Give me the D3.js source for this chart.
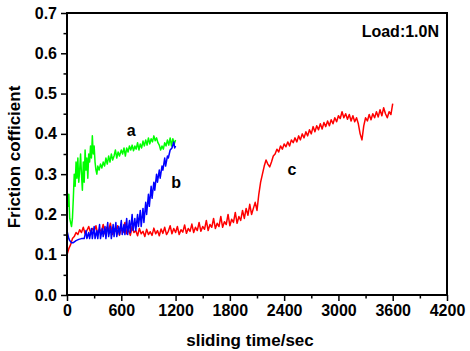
<!DOCTYPE html>
<html>
<head>
<meta charset="utf-8">
<script src="https://cdn.jsdelivr.net/npm/d3@7"></script>
<style>
  body { margin: 0; background: #fff; }
  svg text { font-family: "Liberation Sans", Arial, sans-serif; font-weight: bold; fill: #000; }
</style>
</head>
<body>
<svg width="470" height="351"></svg>
<script>
// Data: [time (s), friction coefficient]
const curveA = [
  [0,0.27],[10,0.22],[20,0.25],[30,0.19],[40,0.18],[50,0.17],[60,0.19],[70,0.24],[80,0.30],[90,0.27],
  [100,0.33],[110,0.29],[120,0.34],[130,0.28],[140,0.31],[150,0.35],[160,0.30],[170,0.26],[180,0.33],[190,0.28],
  [200,0.36],[210,0.31],[220,0.34],[230,0.29],[240,0.35],[250,0.33],[260,0.37],[270,0.34],[280,0.395],[290,0.35],
  [300,0.37],[310,0.33],[320,0.31],[330,0.30],[340,0.32],[355,0.31],[370,0.325],[385,0.315],[400,0.33],[415,0.32],
  [430,0.34],[445,0.325],[460,0.345],[475,0.33],[490,0.35],[505,0.335],[520,0.345],[535,0.36],[550,0.34],[565,0.355],
  [580,0.345],[600,0.36],[615,0.35],[630,0.365],[645,0.345],[660,0.365],[675,0.355],[690,0.37],[705,0.36],[720,0.372],
  [735,0.358],[750,0.37],[765,0.362],[780,0.378],[795,0.36],[810,0.375],[825,0.365],[840,0.382],[855,0.37],[870,0.385],
  [885,0.372],[900,0.39],[915,0.375],[930,0.388],[945,0.38],[960,0.395],[975,0.383],[990,0.39],[1005,0.378],[1020,0.372],
  [1035,0.36],[1050,0.37],[1065,0.362],[1080,0.378],[1095,0.37],[1110,0.385],[1125,0.372],[1140,0.39],[1155,0.37],[1170,0.388],
  [1185,0.375],[1200,0.385]
];
const curveB = [
  [0,0.16],[10,0.15],[20,0.14],[30,0.135],[50,0.13],[70,0.13],[100,0.135],[130,0.138],[160,0.14],[190,0.14],
  [210,0.16],[220,0.14],[240,0.155],[250,0.14],[270,0.165],[280,0.14],[300,0.17],[310,0.14],[330,0.16],[340,0.14],
  [360,0.175],[370,0.14],[390,0.165],[400,0.145],[420,0.17],[430,0.14],[450,0.18],[460,0.145],[480,0.17],[490,0.14],
  [510,0.175],[520,0.145],[540,0.18],[550,0.145],[570,0.17],[580,0.15],[600,0.185],[610,0.15],[630,0.175],[640,0.15],
  [660,0.19],[670,0.15],[690,0.185],[700,0.155],[720,0.2],[730,0.16],[750,0.19],[760,0.16],[780,0.2],[790,0.17],
  [810,0.21],[820,0.17],[840,0.215],[850,0.18],[870,0.23],[880,0.2],[900,0.25],[910,0.22],[930,0.27],[940,0.24],
  [960,0.28],[970,0.26],[990,0.3],[1000,0.28],[1020,0.31],[1030,0.29],[1050,0.32],[1060,0.31],[1080,0.34],[1090,0.32],
  [1110,0.345],[1120,0.34],[1140,0.36],[1160,0.365],[1180,0.38],[1190,0.365],[1200,0.37]
];
const curveC = [
  [0,0.10],[20,0.115],[40,0.125],[60,0.14],[80,0.145],[100,0.155],[120,0.15],[140,0.162],[160,0.155],[180,0.168],
  [200,0.152],[220,0.16],[240,0.17],[260,0.155],[280,0.165],[300,0.158],[320,0.172],[340,0.15],[360,0.163],[380,0.157],
  [400,0.175],[420,0.152],[440,0.168],[460,0.16],[480,0.178],[500,0.15],[520,0.165],[540,0.158],[560,0.172],[580,0.148],
  [600,0.166],[620,0.155],[640,0.18],[660,0.152],[680,0.162],[700,0.148],[720,0.17],[740,0.155],[760,0.16],[780,0.147],
  [800,0.165],[820,0.152],[840,0.158],[860,0.145],[880,0.163],[900,0.15],[920,0.157],[940,0.148],[960,0.166],[980,0.152],
  [1000,0.16],[1020,0.147],[1040,0.164],[1060,0.153],[1080,0.168],[1100,0.15],[1120,0.158],[1140,0.172],[1160,0.152],[1180,0.165],
  [1200,0.155],[1220,0.17],[1240,0.15],[1260,0.162],[1280,0.156],[1300,0.174],[1320,0.153],[1340,0.165],[1360,0.158],[1380,0.176],
  [1400,0.155],[1420,0.168],[1440,0.16],[1460,0.18],[1480,0.158],[1500,0.17],[1520,0.163],[1540,0.185],[1560,0.16],[1580,0.175],
  [1600,0.168],[1620,0.19],[1640,0.165],[1660,0.178],[1680,0.17],[1700,0.195],[1720,0.168],[1740,0.182],[1760,0.175],[1780,0.2],
  [1800,0.172],[1820,0.188],[1840,0.18],[1860,0.205],[1880,0.178],[1900,0.195],[1920,0.185],[1940,0.21],[1960,0.19],[1980,0.215],
  [2000,0.198],[2020,0.225],[2040,0.2],[2060,0.215],[2080,0.23],[2100,0.21],[2120,0.25],[2140,0.28],[2160,0.3],[2180,0.32],
  [2200,0.335],[2220,0.325],[2240,0.318],[2260,0.33],[2280,0.345],[2300,0.35],[2320,0.362],[2340,0.355],[2360,0.37],[2380,0.362],
  [2400,0.375],[2420,0.368],[2440,0.38],[2460,0.37],[2480,0.385],[2500,0.378],[2520,0.39],[2540,0.38],[2560,0.395],[2580,0.385],
  [2600,0.4],[2620,0.39],[2640,0.405],[2660,0.395],[2680,0.41],[2700,0.4],[2720,0.418],[2740,0.405],[2760,0.42],[2780,0.41],
  [2800,0.425],[2820,0.412],[2840,0.428],[2860,0.418],[2880,0.432],[2900,0.42],[2920,0.435],[2940,0.425],[2960,0.44],[2980,0.43],
  [3000,0.445],[3020,0.438],[3040,0.455],[3060,0.44],[3080,0.45],[3100,0.436],[3120,0.448],[3140,0.432],[3160,0.445],[3180,0.43],
  [3200,0.44],[3220,0.425],[3240,0.4],[3260,0.385],[3280,0.42],[3300,0.44],[3320,0.432],[3340,0.448],[3360,0.435],[3380,0.45],
  [3400,0.44],[3420,0.455],[3440,0.442],[3460,0.46],[3480,0.445],[3500,0.465],[3520,0.45],[3540,0.44],[3560,0.455],[3580,0.448],
  [3600,0.475]
];

const xTicks = [0, 600, 1200, 1800, 2400, 3000, 3600, 4200];
const yTicks = [0.0, 0.1, 0.2, 0.3, 0.4, 0.5, 0.6, 0.7];

// curve labels: [text, time, value of baseline]
const curveLabels = [["a", 710, 0.395], ["b", 1206, 0.266], ["c", 2487, 0.298]];

const svg = d3.select("svg");
const margin = {left: 67, top: 13, right: 23, bottom: 56};
const width = 470 - margin.left - margin.right,
      height = 351 - margin.top - margin.bottom;

const x = d3.scaleLinear().domain([0, 4200]).range([0, width]);
const y = d3.scaleLinear().domain([0, 0.7]).range([height, 0]);

const g = svg.append("g").attr("transform", `translate(${margin.left},${margin.top})`);

// minor ticks
g.append("g")
    .attr("transform", `translate(0,${height})`)
    .call(d3.axisBottom(x).tickValues(d3.range(300, 4200, 600)).tickSize(3.5).tickFormat(""))
    .call(a => a.select(".domain").remove())
    .selectAll("line").attr("stroke-width", 1.5);
g.append("g")
    .call(d3.axisLeft(y).tickValues(d3.range(0.05, 0.7, 0.1)).tickSize(3.5).tickFormat(""))
    .call(a => a.select(".domain").remove())
    .selectAll("line").attr("stroke-width", 1.5);

// major ticks + labels
const xAxis = g.append("g")
    .attr("transform", `translate(0,${height})`)
    .call(d3.axisBottom(x).tickValues(xTicks).tickSize(6).tickPadding(4).tickFormat(d3.format("d")));
xAxis.select(".domain").remove();
xAxis.selectAll("line").attr("stroke-width", 1.5);
xAxis.selectAll("text").attr("font-size", 16).attr("font-family", null).style("font-weight", "bold");

const yAxis = g.append("g")
    .call(d3.axisLeft(y).tickValues(yTicks).tickSize(6).tickPadding(4).tickFormat(d3.format(".1f")));
yAxis.select(".domain").remove();
yAxis.selectAll("line").attr("stroke-width", 1.5);
yAxis.selectAll("text").attr("font-size", 16).attr("font-family", null).style("font-weight", "bold");

// curves
const line = d3.line().x(d => x(d[0])).y(d => y(d[1]));
[[curveC, "#ff0000"], [curveA, "#00ff00"], [curveB, "#0000ff"]].forEach(([data, c]) => {
  g.append("path").datum(data)
      .attr("fill", "none")
      .attr("stroke", c)
      .attr("stroke-width", 1.5)
      .attr("stroke-linejoin", "round")
      .attr("d", line);
});

// frame
g.append("rect")
    .attr("width", width).attr("height", height)
    .attr("fill", "none").attr("stroke", "#000").attr("stroke-width", 2);

// labels on curves
g.selectAll(".clabel").data(curveLabels).join("text")
    .attr("class", "clabel")
    .attr("x", d => x(d[1])).attr("y", d => y(d[2]))
    .attr("text-anchor", "middle")
    .attr("font-size", 16)
    .text(d => d[0]);

g.append("text")
    .attr("x", width - 8).attr("y", 24)
    .attr("text-anchor", "end")
    .attr("font-size", 16)
    .text("Load:1.0N");

// axis titles
svg.append("text")
    .attr("x", margin.left + width / 2 - 7).attr("y", 346)
    .attr("text-anchor", "middle")
    .attr("font-size", 17)
    .text("sliding time/sec");

svg.append("text")
    .attr("transform", `translate(20,${margin.top + height / 2 + 3}) rotate(-90)`)
    .attr("text-anchor", "middle")
    .attr("font-size", 17)
    .text("Friction cofficient");
</script>
</body>
</html>
